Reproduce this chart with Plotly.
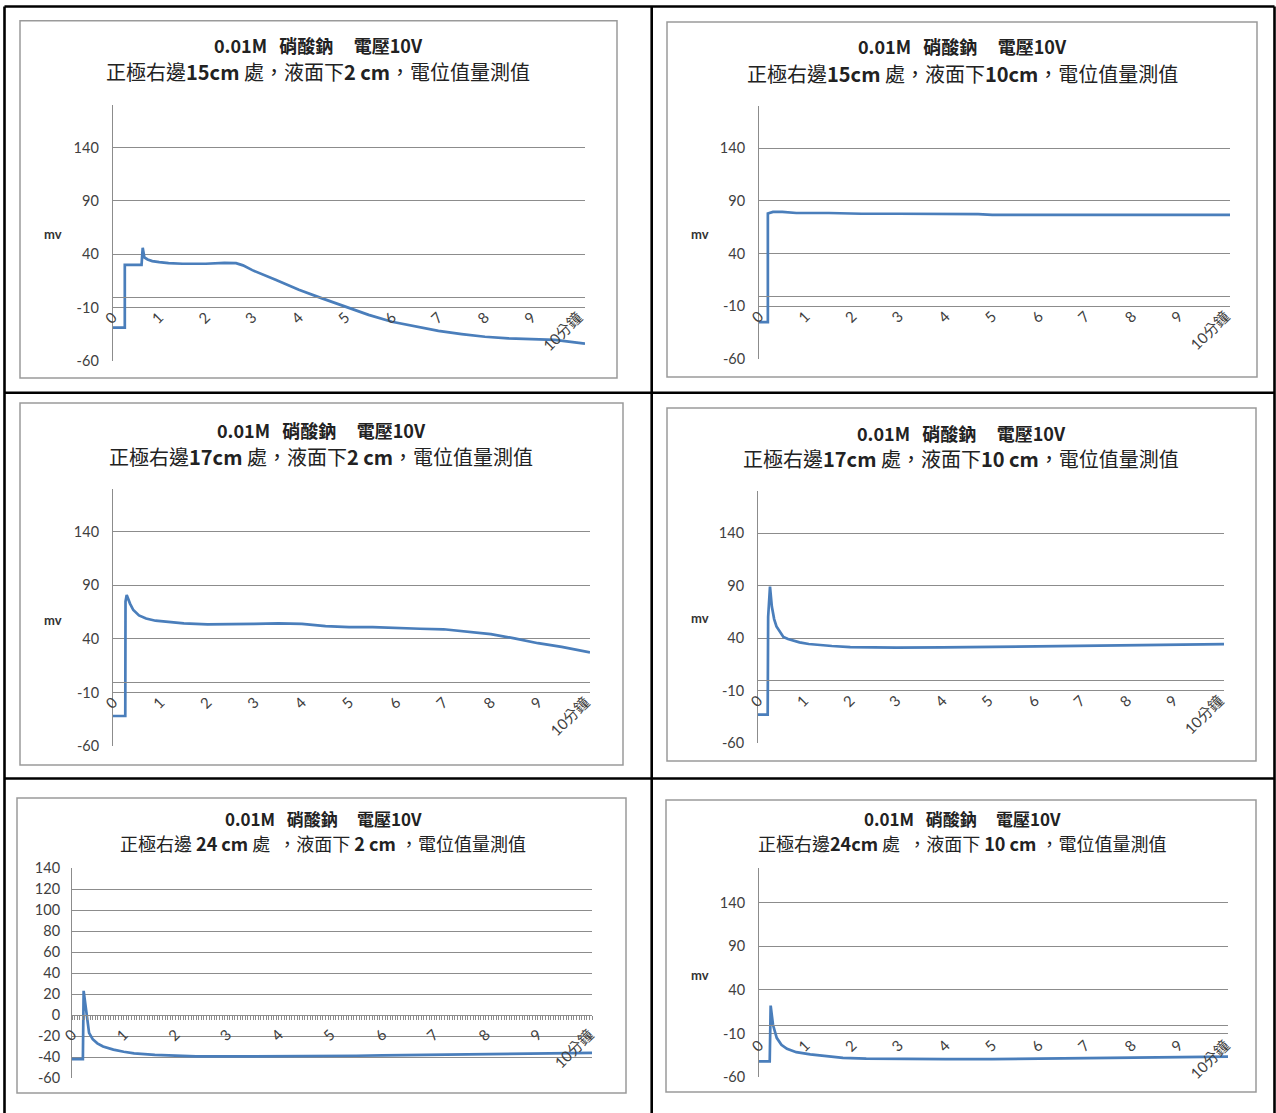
import plotly.graph_objects as go

W, H = 1276, 1113

# ---------------- data (time in minutes, potential in mV) ----------------
p1_t = [0, 0.26, 0.26, 0.62, 0.645, 0.68, 0.75, 0.85, 1.0, 1.2, 1.5, 2.0, 2.4, 2.65, 2.8, 3.0, 3.5, 4.0, 4.5, 5.0, 5.5, 6.0, 6.5, 7.0, 7.5, 8.0, 8.5, 9.0, 9.5, 10.15]
p1_mv = [-29, -29, 30, 30, 46, 37, 35, 33.5, 32.5, 31.5, 31, 31, 31.8, 31.5, 29.5, 25, 16, 6.5, -1.5, -9.5, -17, -23.5, -28, -32, -35, -37.5, -39, -40, -40.5, -44]

p2_t = [0, 0.19, 0.19, 0.3, 0.5, 0.8, 1.5, 2.2, 3, 4, 4.7, 5, 6, 7, 8, 9, 10.1]
p2_mv = [-25, -25, 78, 79.5, 79.5, 78.5, 78.5, 77.8, 77.8, 77.8, 77.5, 76.8, 76.8, 76.8, 76.8, 76.8, 76.8]

p3_t = [0, 0.26, 0.265, 0.29, 0.36, 0.43, 0.55, 0.7, 0.9, 1.2, 1.5, 2, 2.5, 3, 3.5, 4, 4.5, 5, 5.5, 6, 6.5, 7, 7.5, 8, 8.5, 9, 9.5, 10.1]
p3_mv = [-32, -32, 75, 81, 73, 67, 62, 59, 57, 55.5, 54.5, 53.5, 53.5, 54, 54.5, 54, 52, 51, 51, 50, 49.5, 49, 47, 44.5, 40.5, 36, 32.5, 27.5]

p4_t = [0, 0.21, 0.22, 0.26, 0.3, 0.35, 0.4, 0.48, 0.55, 0.65, 0.75, 0.9, 1.1, 1.35, 1.6, 2.0, 2.5, 3, 4, 5, 6, 7, 8, 9, 10.1]
p4_mv = [-33, -33, 60, 89, 70, 58, 51, 45, 41, 39, 37.5, 35.8, 34.3, 33.2, 32.4, 31.3, 30.8, 30.8, 31, 31.5, 32, 32.8, 33.3, 33.8, 34.2]

p5_t = [0, 0.21, 0.225, 0.29, 0.33, 0.4, 0.49, 0.6, 0.8, 1.0, 1.2, 1.6, 2.0, 2.4, 3, 4, 5, 5.5, 6, 7, 8, 9, 9.3, 10.05]
p5_mv = [-42, -42, 23, -5, -17, -23, -27, -30, -33, -35, -36.5, -38, -39, -39.5, -39.5, -39.5, -39.3, -38.8, -38.5, -38, -37.5, -37, -36.2, -36]

p6_t = [0, 0.23, 0.25, 0.3, 0.38, 0.48, 0.6, 0.8, 1.1, 1.5, 1.8, 2.3, 3, 4, 5, 6, 7, 8, 9, 10.06]
p6_mv = [-42, -42, 22, 0, -15, -23, -27.6, -31.5, -34, -36.5, -38, -39, -39.5, -39.5, -39.5, -39, -38.5, -38, -37.5, -36.5]

x_tickvals = [0, 1, 2, 3, 4, 5, 6, 7, 8, 9, 10]
x_ticktext = ["0", "1", "2", "3", "4", "5", "6", "7", "8", "9", "10分鐘"]

y_tickvals_50 = [-60, -10, 40, 90, 140]
y_ticktext_50 = ["-60", "-10", "40", "90", "140"]
y_tickvals_20 = [-60, -40, -20, 0, 20, 40, 60, 80, 100, 120, 140]
y_ticktext_20 = ["-60", "-40", "-20", "0", "20", "40", "60", "80", "100", "120", "140"]

title_line1 = "<b>0.01M\u00a0\u00a0\u00a0硝酸鈉\u00a0\u00a0\u00a0\u00a0\u00a0電壓10V</b>"
title_line2 = [
    "正極右邊<b>15cm</b> 處，液面下<b>2 cm</b>，電位值量測值",
    "正極右邊<b>15cm</b> 處，液面下<b>10cm</b>，電位值量測值",
    "正極右邊<b>17cm</b> 處，液面下<b>2 cm</b>，電位值量測值",
    "正極右邊<b>17cm</b> 處，液面下<b>10 cm</b>，電位值量測值",
    "正極右邊\u00a0<b>24 cm</b> 處\u00a0\u00a0，液面下 <b>2 cm</b>\u00a0，電位值量測值",
    "正極右邊<b>24cm</b> 處\u00a0\u00a0，液面下 <b>10 cm</b>\u00a0，電位值量測值",
]
y_label = "mv"

series = [(p1_t, p1_mv), (p2_t, p2_mv), (p3_t, p3_mv), (p4_t, p4_mv), (p5_t, p5_mv), (p6_t, p6_mv)]
y_ticks = [(y_tickvals_50, y_ticktext_50)] * 4 + [(y_tickvals_20, y_ticktext_20), (y_tickvals_50, y_ticktext_50)]

# ---------------- layout geometry (pixels) ----------------
# plot area: x0, x1, ytop, ybot, yrange, xmax
areas = [
    (112.7, 585, 105, 360.7, [-60, 180], 10.15),
    (759, 1230, 106, 359, [-60, 180], 10.1),
    (113, 590, 489, 746, [-60, 180], 10.1),
    (758, 1224, 491, 743, [-60, 180], 10.1),
    (72, 592, 868, 1078, [-60, 140], 10.05),
    (759, 1228, 868, 1077, [-60, 180], 10.06),
]
boxes = [
    (20, 20.7, 617, 378),
    (667, 22, 1257, 377),
    (20, 403, 623, 765),
    (667, 408, 1256, 761),
    (17, 798, 626, 1093),
    (666, 800, 1256, 1092),
]
titles_pos = [(318, 45, 71), (962, 46, 73), (321, 430, 456), (961, 433, 459), (323, 819, 843), (962, 819, 843)]
title_sizes = [(18, 20), (18, 20), (18, 20), (18, 20), (17, 18), (17, 18)]
mv_pos = [(53, 234), (700, 234), (53, 620), (700, 618), None, (700, 975)]


def fx(x):
    return x / W


def fy(y):
    return 1 - y / H


LINE_COLOR = "#4A7EBB"
GRID = "#8C8C8C"
YTICKFONT = dict(family="Lato, Open Sans, sans-serif", size=14.5, color="#404040")
XTICKFONT = dict(family="Lato, Noto Sans CJK TC, sans-serif", size=15, color="#404040")
CJK = "Noto Sans CJK TC, Noto Sans CJK SC, sans-serif"

fig = go.Figure()
layout = {}
annotations = []
shapes = []

for i, ((t, mv), area) in enumerate(zip(series, areas)):
    n = i + 1
    x0, x1, ytop, ybot, yr, xmax = area
    xa = "x" if n == 1 else f"x{n}"
    ya = "y" if n == 1 else f"y{n}"
    fig.add_trace(go.Scatter(x=t, y=mv, mode="lines", xaxis=xa, yaxis=ya,
                             line=dict(color=LINE_COLOR, width=2.7), showlegend=False,
                             hoverinfo="skip"))
    ydom = [fy(ybot), fy(ytop)]
    zero_pos = ydom[0] + (0 - yr[0]) / (yr[1] - yr[0]) * (ydom[1] - ydom[0])
    xaxis = dict(domain=[fx(x0), fx(x1)], range=[0, xmax], anchor="free", position=zero_pos,
                 tickmode="array", tickvals=x_tickvals, ticktext=x_ticktext, tickangle=-45,
                 showgrid=False, zeroline=False, showline=True, linecolor=GRID, linewidth=1,
                 tickfont=XTICKFONT, ticks="", ticklabelstandoff=5, fixedrange=True,
                 automargin=False)
    if n == 5:
        xaxis.update(ticks="outside", ticklen=4, tickcolor=GRID, tickwidth=1, ticklabelstandoff=0,
                     minor=dict(ticks="outside", dtick=0.05, ticklen=4, tickcolor=GRID, tickwidth=1))
    tv, tt = y_ticks[i]
    yaxis = dict(domain=ydom, range=yr, anchor=xa, tickmode="array", tickvals=tv, ticktext=tt,
                 showgrid=True, gridcolor=GRID, gridwidth=1, zeroline=False,
                 showline=True, linecolor=GRID, linewidth=1, tickfont=YTICKFONT,
                 ticks="", ticklabelstandoff=10 if n != 5 else 8, fixedrange=True,
                 automargin=False)
    layout["xaxis" if n == 1 else f"xaxis{n}"] = xaxis
    layout["yaxis" if n == 1 else f"yaxis{n}"] = yaxis

    bx0, by0, bx1, by1 = boxes[i]
    shapes.append(dict(type="rect", xref="paper", yref="paper", x0=fx(bx0), x1=fx(bx1),
                       y0=fy(by1), y1=fy(by0), line=dict(color="#9A9A9A", width=1.5),
                       fillcolor="rgba(0,0,0,0)", layer="below"))
    cx, ty1, ty2 = titles_pos[i]
    s1, s2 = title_sizes[i]
    annotations.append(dict(x=fx(cx), y=fy(ty1), xref="paper", yref="paper", text=title_line1,
                            showarrow=False, xanchor="center", yanchor="middle",
                            font=dict(family=CJK, size=s1, color="#222")))
    annotations.append(dict(x=fx(cx), y=fy(ty2), xref="paper", yref="paper", text=title_line2[i],
                            showarrow=False, xanchor="center", yanchor="middle",
                            font=dict(family=CJK, size=s2, color="#222")))
    if mv_pos[i] is not None:
        mx, my = mv_pos[i]
        annotations.append(dict(x=fx(mx), y=fy(my), xref="paper", yref="paper", text="<b>" + y_label + "</b>",
                                showarrow=False, xanchor="center", yanchor="middle",
                                font=dict(family="Lato, sans-serif", size=13, color="#333")))

# table borders
BL = dict(color="black", width=2.6)
for (xa0, ya0, xa1, ya1) in [
    (4.5, 6.5, 1274.5, 6.5),      # top
    (4.5, 6.5, 4.5, 1113),        # left
    (1274.5, 6.5, 1274.5, 1113),  # right
    (651.7, 6.5, 651.7, 1113),    # middle vertical
    (4.5, 392.7, 1274.5, 392.7),  # row divider 1
    (4.5, 778.5, 1274.5, 778.5),  # row divider 2
]:
    shapes.append(dict(type="line", xref="paper", yref="paper", x0=fx(xa0), x1=fx(xa1),
                       y0=fy(ya0), y1=fy(ya1), line=BL))

fig.update_layout(width=W, height=H,
                  margin=dict(l=0, r=0, t=0, b=0, pad=0, autoexpand=False),
                  paper_bgcolor="white", plot_bgcolor="white",
                  shapes=shapes, annotations=annotations, showlegend=False, **layout)

fig.write_html("out.html", config={"displayModeBar": False})
